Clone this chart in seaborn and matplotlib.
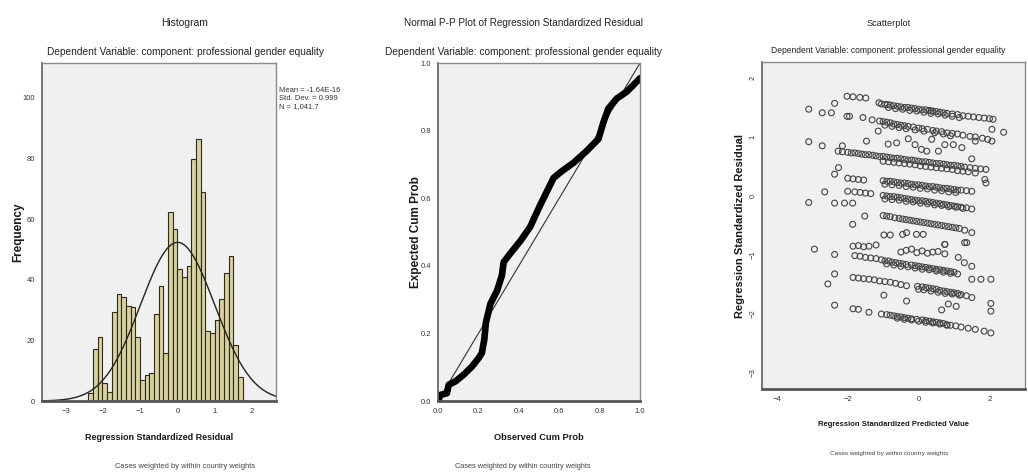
import numpy as np
import pandas as pd
import matplotlib
matplotlib.use("Agg")
import matplotlib.pyplot as plt
import seaborn as sns

# Histogram: bin counts
bin_start = -2.40
bin_width = 0.1258
hist_counts = [2.5, 17, 21, 6, 3, 29.5, 35.4, 34.3, 31.4, 31, 21, 7, 8.5, 9.3, 28.8,
               37.9, 15.7, 62.5, 56.6, 43.6, 41, 44.4, 80, 86.4, 69, 23, 22.6, 26.6,
               33.8, 42.2, 47.9, 18.4, 8]
res_mean = 0.0
res_sd = 0.999
res_n = 1041.7
stats_lines = ["Mean = -1.64E-16", "Std. Dev. = 0.999", "N = 1,041.7"]

# Normal P-P plot
pp_observed = [0.0, 0.012, 0.044, 0.053, 0.086, 0.127, 0.168, 0.201, 0.217, 0.229, 0.237,
               0.237, 0.259, 0.292, 0.316, 0.325, 0.357, 0.407, 0.456, 0.506, 0.572, 0.613,
               0.671, 0.736, 0.794, 0.819, 0.843, 0.885, 0.934, 1.0]
pp_expected = [0.0, 0.018, 0.023, 0.048, 0.058, 0.078, 0.102, 0.127, 0.142, 0.182, 0.212,
               0.252, 0.287, 0.326, 0.371, 0.411, 0.436, 0.473, 0.515, 0.58, 0.66, 0.68,
               0.705, 0.74, 0.775, 0.825, 0.865, 0.895, 0.915, 0.955]

# Scatterplot: standardized predicted value vs standardized residual
sc_x = [
    # top row
    -2.02, -1.85, -1.66, -1.49, -1.12, -1.05, -0.95, -0.88, -0.8, -0.7, -0.6, -0.5, -0.4, -0.3,
    -0.2, -0.1, 0.0, 0.1, 0.2, 0.3, 0.35, 0.4, 0.5, 0.6, 0.7, 0.8, 0.95, 1.1, 1.25, 1.4, 1.55,
    1.7, 1.85, 2.0, 2.1,
    -0.85, -0.65, -0.45, -0.25, -0.05, 0.15, 0.35, 0.55, 0.75, 0.95, 1.15,
    # second row
    -2.02, -1.95, -1.57, -1.31, -1.1, -1.0, -0.9, -0.8, -0.7, -0.6, -0.5, -0.4, -0.3, -0.15,
    0.0, 0.1, 0.25, 0.4, 0.5, 0.65, 0.8, 0.95, 1.1, 1.25, 1.45, 1.6, 1.8, 1.95,
    -0.95, -0.75, -0.55, -0.35, -0.1, 0.15, 0.45, 0.7, 0.9,
    # loose points
    -2.37, -3.10, -2.72, -2.46, 2.40, 2.07, 2.07, -3.10, -2.72, -2.15, -0.29, 0.08, 0.23, 0.56,
    0.74, 0.98, 1.22, 1.5, 1.6, 0.37, -0.1, -1.47, -1.14, -0.86, -0.62,
    # third row
    -2.27, -2.15, -2.0, -1.9, -1.8, -1.7, -1.6, -1.5, -1.4, -1.3, -1.2, -1.1, -1.0, -0.9, -0.8,
    -0.7, -0.6, -0.5, -0.4, -0.3, -0.2, -0.1, 0.0, 0.1, 0.2, 0.3, 0.4, 0.5, 0.6, 0.7, 0.8, 0.9,
    1.0, 1.1, 1.2, 1.3, 1.45, 1.6, 1.75, 1.9,
    -1.0, -0.85, -0.7, -0.55, -0.4, -0.25, -0.1, 0.05, 0.2, 0.35, 0.5, 0.65, 0.8, 0.95, 1.1,
    1.25, 1.4, 1.6,
    -2.37, -2.26,
    # fourth row
    -2.0, -1.85, -1.7, -1.55, -1.0, -0.9, -0.8, -0.7, -0.6, -0.5, -0.4, -0.3, -0.2, -0.1, 0.0,
    0.1, 0.2, 0.3, 0.4, 0.5, 0.6, 0.7, 0.8, 0.9, 1.0, 1.1, 1.2, 1.35, 1.5, 1.87, 1.9,
    -0.95, -0.75, -0.55, -0.35, -0.15, 0.05, 0.25, 0.45, 0.65, 0.85, 1.05,
    -2.65, -3.10, -2.37, -2.09, -1.86,
    # fifth row
    -2.0, -1.8, -1.65, -1.5, -1.35, -1.0, -0.9, -0.8, -0.7, -0.6, -0.5, -0.4, -0.3, -0.2, -0.1,
    0.0, 0.1, 0.2, 0.3, 0.4, 0.5, 0.6, 0.7, 0.8, 0.9, 1.0, 1.1, 1.2, 1.35, 1.5,
    -0.95, -0.75, -0.55, -0.35, -0.15, 0.05, 0.25, 0.45, 0.65, 0.85, 1.05, 1.25,
    # sixth row
    -1.52, -1.86, -1.0, -0.9, -0.8, -0.67, -0.55, -0.45, -0.35, -0.25, -0.15, -0.05, 0.05, 0.15,
    0.25, 0.35, 0.45, 0.55, 0.65, 0.75, 0.85, 0.95, 1.05, 1.15, 1.3, 1.5,
    -0.98, -0.8, -0.45, -0.34, -0.06, 0.13, 1.36, 0.74,
    # seventh rows
    -1.85, -1.7, -1.55, -1.4, -1.2, -0.5, -0.35, -0.2, -0.05, 0.1, 0.25, 0.4, 0.55, 0.74, 0.74,
    1.3,
    -1.8, -1.65, -1.5, -1.35, -1.2, -1.05, -0.95, -0.85, -0.75, -0.65, -0.55, -0.45, -0.35,
    -0.2, -0.1, 0.0, 0.1, 0.2, 0.3, 0.4, 0.5, 0.6, 0.7, 0.8, 0.9, 1.0, 1.12, 1.29, 1.5,
    -0.9, -0.7, -0.5, -0.3, -0.1, 0.1, 0.3, 0.5, 0.7, 0.9, 1.1,
    -2.94, -2.37, -2.37, -2.56, -2.37,
    # eighth row
    -1.85, -1.7, -1.55, -1.4, -1.25, -1.1, -0.95, -0.8, -0.65, -0.5, -0.34, -0.03, 0.1, 0.2,
    0.3, 0.4, 0.5, 0.6, 0.7, 0.8, 0.9, 1.0, 1.1, 1.2, 1.35, 1.5, 1.76, 2.04,
    0.0, 0.15, 0.35, 0.55, 0.75, 0.95, 1.15,
    1.5, 2.04, -0.98, -0.34, 0.65, 0.84, 1.06, 2.04,
    # bottom row
    -1.85, -1.7, -1.4, -1.05, -0.9, -0.8, -0.7, -0.6, -0.5, -0.4, -0.3, -0.2, -0.05, 0.1, 0.2,
    0.3, 0.4, 0.5, 0.6, 0.7, 0.8, 0.9, 1.05, 1.2, 1.4, 1.6, 1.85, 2.04,
    -0.6, -0.4, -0.2, 0.0, 0.2, 0.4, 0.6, 0.8,
]
sc_y = [
    1.69, 1.68, 1.67, 1.66, 1.58, 1.56, 1.55, 1.55, 1.54, 1.53, 1.52, 1.51, 1.5, 1.5,
    1.49, 1.48, 1.47, 1.46, 1.46, 1.45, 1.44, 1.44, 1.43, 1.42, 1.41, 1.4, 1.39, 1.38, 1.36, 1.35, 1.34,
    1.33, 1.32, 1.31, 1.30,
    1.50, 1.48, 1.47, 1.45, 1.44, 1.42, 1.40, 1.39, 1.37, 1.35, 1.33,
    1.35, 1.35, 1.33, 1.29, 1.27, 1.26, 1.25, 1.24, 1.22, 1.21, 1.2, 1.19, 1.18, 1.17,
    1.15, 1.14, 1.13, 1.11, 1.10, 1.09, 1.07, 1.06, 1.05, 1.03, 1.01, 1.0, 0.98, 0.96,
    1.20, 1.18, 1.16, 1.14, 1.12, 1.10, 1.07, 1.05, 1.02,
    1.57, 1.47, 1.41, 1.41, 1.08, 1.13, 0.93, 0.92, 0.85, 0.85, 0.97, 0.79, 0.76, 0.76,
    0.87, 0.87, 0.82, 0.63, 0.93, 0.96, 0.87, 0.93, 1.10, 0.88, 0.90,
    0.76, 0.75, 0.74, 0.73, 0.73, 0.72, 0.71, 0.70, 0.70, 0.69, 0.68, 0.67, 0.67, 0.66, 0.65,
    0.64, 0.64, 0.63, 0.62, 0.61, 0.61, 0.60, 0.59, 0.58, 0.58, 0.57, 0.56, 0.55, 0.55, 0.54, 0.53, 0.52,
    0.52, 0.51, 0.50, 0.49, 0.48, 0.47, 0.46, 0.45,
    0.59, 0.58, 0.57, 0.56, 0.55, 0.54, 0.53, 0.51, 0.50, 0.49, 0.48, 0.47, 0.46, 0.45, 0.43,
    0.42, 0.41, 0.39,
    0.37, 0.48,
    0.30, 0.29, 0.28, 0.27, 0.26, 0.25, 0.25, 0.24, 0.23, 0.22, 0.22, 0.21, 0.20, 0.19, 0.19,
    0.18, 0.17, 0.16, 0.16, 0.15, 0.14, 0.13, 0.13, 0.12, 0.11, 0.10, 0.10, 0.09, 0.08, 0.28, 0.22,
    0.20, 0.19, 0.18, 0.16, 0.15, 0.13, 0.12, 0.10, 0.09, 0.07, 0.06,
    0.07, -0.11, -0.12, -0.12, -0.12,
    0.08, 0.07, 0.06, 0.05, 0.04, 0.01, 0.0, -0.01, -0.01, -0.02, -0.03, -0.04, -0.05, -0.06, -0.07,
    -0.08, -0.08, -0.09, -0.10, -0.11, -0.12, -0.13, -0.14, -0.15, -0.16, -0.17, -0.18, -0.19, -0.20, -0.22,
    -0.05, -0.06, -0.07, -0.09, -0.10, -0.12, -0.13, -0.15, -0.16, -0.18, -0.19, -0.21,
    -0.34, -0.48, -0.33, -0.34, -0.35, -0.37, -0.38, -0.39, -0.40, -0.41, -0.42, -0.43, -0.44, -0.45,
    -0.46, -0.47, -0.48, -0.49, -0.50, -0.51, -0.52, -0.53, -0.54, -0.55, -0.58, -0.62,
    -0.66, -0.66, -0.65, -0.62, -0.65, -0.65, -0.79, -0.82,
    -0.85, -0.84, -0.86, -0.85, -0.83, -0.95, -0.92, -0.90, -0.96, -0.93, -0.97, -0.95, -0.94, -0.98, -0.82,
    -0.79,
    -1.01, -1.02, -1.04, -1.05, -1.06, -1.08, -1.10, -1.10, -1.12, -1.13, -1.14, -1.15, -1.16,
    -1.17, -1.18, -1.19, -1.20, -1.21, -1.22, -1.23, -1.24, -1.25, -1.26, -1.27, -1.28, -1.29, -1.04, -1.13, -1.19,
    -1.15, -1.17, -1.19, -1.20, -1.22, -1.24, -1.25, -1.27, -1.29, -1.31, -1.32,
    -0.90, -0.99, -1.32, -1.49, -1.85,
    -1.38, -1.39, -1.40, -1.41, -1.42, -1.44, -1.45, -1.46, -1.48, -1.50, -1.52, -1.53, -1.54, -1.55,
    -1.56, -1.57, -1.58, -1.60, -1.61, -1.62, -1.63, -1.64, -1.65, -1.67, -1.69, -1.41, -1.41, -1.41,
    -1.58, -1.59, -1.61, -1.63, -1.65, -1.66, -1.68,
    -1.72, -1.82, -1.68, -1.78, -1.93, -1.83, -1.87, -1.95,
    -1.91, -1.92, -1.97, -2.0, -2.01, -2.02, -2.03, -2.04, -2.05, -2.06, -2.07, -2.08, -2.09, -2.10, -2.11,
    -2.12, -2.13, -2.14, -2.15, -2.16, -2.18, -2.19, -2.20, -2.22, -2.24, -2.26, -2.29, -2.32,
    -2.07, -2.09, -2.10, -2.12, -2.14, -2.15, -2.17, -2.19,
]

subtitle = "Dependent Variable: component: professional gender equality"
footer = "Cases weighted by within country weights"

sns.set_style("white")
plt.rcParams["font.family"] = ["Liberation Sans", "DejaVu Sans"]

BG = "#f0f0f0"
BAR = "#d8d19c"

fig = plt.figure(figsize=(10.28, 4.72), dpi=100)
ax1 = fig.add_axes([0.0409, 0.1504, 0.2276, 0.7161])
ax2 = fig.add_axes([0.4261, 0.1504, 0.1965, 0.7161])
ax3 = fig.add_axes([0.7412, 0.1758, 0.2558, 0.6928])
renderer = fig.canvas.get_renderer()


def fit(txt, target_px):
    # scale the font so the text spans about as many pixels as in the picture
    bb = txt.get_window_extent(renderer)
    txt.set_fontsize(txt.get_fontsize() * target_px / bb.width)


def style_axes(ax):
    ax.set_facecolor(BG)
    for s in ["top", "right"]:
        ax.spines[s].set_color("#8a8a8a")
        ax.spines[s].set_linewidth(1.0)
    ax.spines["left"].set_color("#6a6a6a")
    ax.spines["left"].set_linewidth(1.3)
    ax.spines["bottom"].set_color("#555555")
    ax.spines["bottom"].set_linewidth(2.0)
    ax.tick_params(axis="both", direction="out", length=3, width=0.8, color="#555555",
                   labelsize=5.5, labelcolor="#333333", pad=2)


def labels(ax, xlab, xw, xy, ylab, ysize, yx):
    ax.set_xlabel(xlab, fontsize=8, fontweight="bold", color="#1a1a1a")
    ax.set_ylabel(ylab, fontsize=ysize, fontweight="bold", color="#1a1a1a")
    ax.xaxis.label.set_va("center")
    ax.yaxis.label.set_va("center")
    ax.xaxis.set_label_coords(0.5, xy)
    ax.yaxis.set_label_coords(yx, 0.5)
    fit(ax.xaxis.label, xw)


# --- Histogram ---
edges = bin_start + bin_width * np.arange(len(hist_counts) + 1)
hist_df = pd.DataFrame({"resid": edges[:-1] + bin_width / 2, "count": hist_counts})
sns.histplot(data=hist_df, x="resid", weights="count", bins=list(edges), color=BAR,
             edgecolor="#2a2a1e", linewidth=0.8, alpha=1, ax=ax1)
xs = np.linspace(-3.65, 2.65, 300)
ys = res_n * bin_width * np.exp(-0.5 * ((xs - res_mean) / res_sd) ** 2) / (res_sd * np.sqrt(2 * np.pi))
sns.lineplot(x=xs, y=ys, color="#222222", linewidth=1.0, ax=ax1)
ax1.set_xlim(-3.65, 2.65)
ax1.set_ylim(0, 111.5)
ax1.set_xticks([-3, -2, -1, 0, 1, 2])
ax1.set_yticks([0, 20, 40, 60, 80, 100])
style_axes(ax1)
labels(ax1, "Regression Standardized Residual", 150, -0.1065, "Frequency", 8.5, -0.103)
fig.text(0.2715, 0.815, "\n".join(stats_lines), va="top", ha="left", fontsize=5.5,
         color="#333333", linespacing=1.2)

# --- Normal P-P plot ---
sns.lineplot(x=[0, 1], y=[0, 1], color="#333333", linewidth=0.8, ax=ax2)
sns.lineplot(x=pp_observed, y=pp_expected, sort=False, color="black", linewidth=4.8,
             solid_capstyle="round", solid_joinstyle="round", ax=ax2)
ax2.set_xlim(0, 1)
ax2.set_ylim(0, 1)
ticks = [0.0, 0.2, 0.4, 0.6, 0.8, 1.0]
ax2.set_xticks(ticks)
ax2.set_yticks(ticks)
ax2.set_xticklabels([f"{t:.1f}" for t in ticks])
ax2.set_yticklabels([f"{t:.1f}" for t in ticks])
style_axes(ax2)
labels(ax2, "Observed Cum Prob", 90, -0.1065, "Expected Cum Prob", 8.5, -0.109)

# --- Scatterplot ---
sc = pd.DataFrame({"pred": sc_x, "resid": sc_y})
sns.scatterplot(data=sc, x="pred", y="resid", marker="o", s=18, facecolors="none",
                edgecolor="#444444", linewidth=0.8, ax=ax3)
ax3.set_xlim(-4.42, 3.0)
ax3.set_ylim(-3.27, 2.27)
ax3.set_xticks([-4, -2, 0, 2])
ax3.set_yticks([-3, -2, -1, 0, 1, 2])
style_axes(ax3)
ax3.tick_params(axis="y", pad=1)
for lab in ax3.get_yticklabels():
    lab.set_rotation(90)
    lab.set_va("center")
labels(ax3, "Regression Standardized Predicted Value", 152, -0.107,
       "Regression Standardized Residual", 8, -0.082)

# --- titles and footers ---
title_specs = [
    (0.1800, 0.951, "Histogram", 47),
    (0.5088, 0.951, "Normal P-P Plot of Regression Standardized Residual", 240),
    (0.8648, 0.951, "Scatterplot", 44),
    (0.1800, 0.890, subtitle, 280),
    (0.5088, 0.890, subtitle, 278),
    (0.8638, 0.892, subtitle, 236),
]
for cx, cy, s, w in title_specs:
    t = fig.text(cx, cy, s, ha="center", va="center", fontsize=8, color="#222222")
    fit(t, w)

footer_specs = [(0.1800, 0.011, 140), (0.5088, 0.011, 139), (0.8648, 0.040, 119)]
for cx, cy, w in footer_specs:
    t = fig.text(cx, cy, footer, ha="center", va="center", fontsize=6, color="#444444")
    fit(t, w)

fig.savefig("out.png", dpi=100, facecolor="white")
